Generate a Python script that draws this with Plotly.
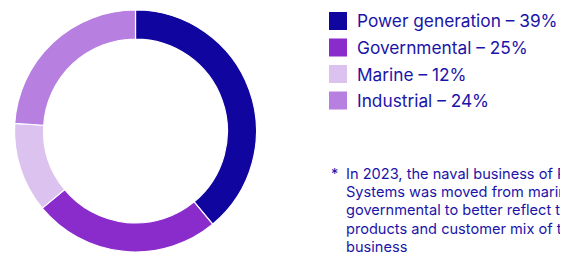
import plotly.graph_objects as go

categories = ["Power generation", "Governmental", "Marine", "Industrial"]
shares = [39, 25, 12, 24]
colors = ["#10069F", "#8A2BCB", "#DCC2EE", "#B77FE0"]
footnote_lines = [
    "In 2023, the naval business of Power",
    "Systems was moved from marine to",
    "governmental to better reflect the",
    "products and customer mix of the",
    "business",
]

# page body has an 8px margin; work in reference pixel coords and shift
OFF = 8
W, H = 568 - OFF, 255 - OFF
TEXT = "#1B14A8"


def px(x):
    return (x - OFF) / W


def py(y):
    return 1 - (y - OFF) / H


fig = go.Figure(go.Pie(
    labels=categories, values=shares, sort=False, direction="clockwise",
    rotation=0, hole=0.76, textinfo="none", hoverinfo="label+percent",
    marker=dict(colors=colors, line=dict(color="white", width=1.2)),
    domain=dict(x=[px(14), px(257)], y=[py(252), py(10)]),
    showlegend=False,
))

shapes, annotations = [], []
row_y = [21, 47.5, 74, 100.5]
for i, (c, v, col) in enumerate(zip(categories, shares, colors)):
    y = row_y[i]
    shapes.append(dict(type="rect", xref="paper", yref="paper",
                       x0=px(329), x1=px(347), y0=py(y + 9), y1=py(y - 9),
                       fillcolor=col, line=dict(width=0)))
    annotations.append(dict(xref="paper", yref="paper", x=px(355), y=py(y),
                            xanchor="left", yanchor="middle", showarrow=False,
                            text=f"{c} – {v}%",
                            font=dict(family="Inter", size=17.3, color=TEXT)))

annotations.append(dict(xref="paper", yref="paper", x=px(329), y=py(173),
                        xanchor="left", yanchor="middle", showarrow=False, text="*",
                        font=dict(family="Inter", size=14.5, color=TEXT)))
for j, line in enumerate(footnote_lines):
    annotations.append(dict(xref="paper", yref="paper", x=px(344), y=py(174 + 18.2 * j),
                            xanchor="left", yanchor="middle", showarrow=False, text=line,
                            font=dict(family="Inter", size=14.6, color=TEXT)))

fig.update_layout(width=W, height=H, margin=dict(l=0, r=0, t=0, b=0),
                  paper_bgcolor="white", plot_bgcolor="white",
                  shapes=shapes, annotations=annotations)
fig.write_html("out.html")
